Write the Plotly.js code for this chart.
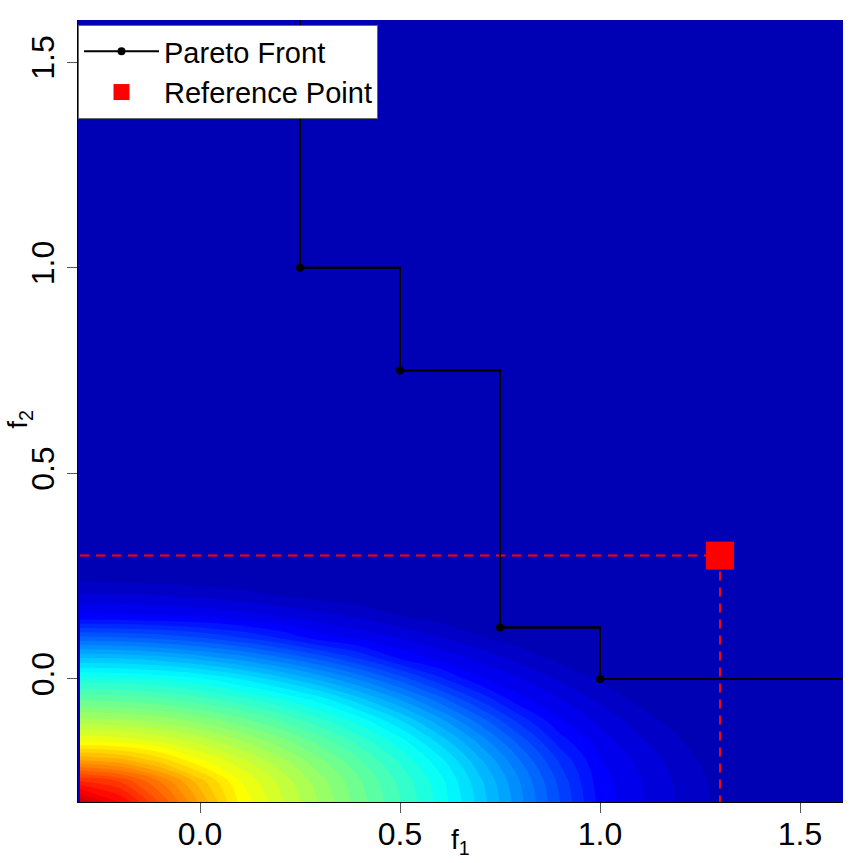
<!DOCTYPE html>
<html>
<head>
<meta charset="utf-8">
<script src="https://cdn.plot.ly/plotly-3.0.1.min.js"></script>
<style>html,body{margin:0;padding:0;background:#fff;}#chart{width:863px;height:863px;}</style>
</head>
<body>
<div id="chart"></div>
<script>
// Grid of the surface (f1 along x, f2 along y)
var gridF1 = [-0.3,-0.2,-0.1,0.0,0.1,0.2,0.3,0.4,0.5,0.6,0.7,0.8,0.9,1.0,1.1,1.2,1.3,1.6];
var gridF2 = [-0.3,-0.25,-0.2,-0.15,-0.1,-0.05,0.0,0.05,0.1,0.15,0.2,0.25,0.3,0.4,1.6];
// Surface values, one row per gridF2 value
var surfaceZ = [
 [0.935,0.876,0.794,0.712,0.630,0.580,0.532,0.484,0.436,0.388,0.327,0.261,0.195,0.128,0.098,0.072,0.050,0.009],
 [0.839,0.814,0.755,0.685,0.616,0.570,0.524,0.477,0.430,0.383,0.320,0.255,0.189,0.124,0.096,0.070,0.048,0.009],
 [0.720,0.706,0.669,0.620,0.583,0.543,0.500,0.457,0.412,0.363,0.300,0.236,0.172,0.117,0.090,0.064,0.044,0.007],
 [0.611,0.606,0.590,0.566,0.536,0.502,0.465,0.425,0.383,0.327,0.267,0.206,0.144,0.105,0.078,0.056,0.037,0.006],
 [0.542,0.537,0.526,0.507,0.482,0.453,0.420,0.384,0.335,0.280,0.224,0.166,0.117,0.089,0.064,0.046,0.029,0.003],
 [0.472,0.468,0.459,0.443,0.422,0.397,0.366,0.322,0.274,0.224,0.171,0.121,0.096,0.070,0.050,0.035,0.020,0.000],
 [0.403,0.400,0.392,0.379,0.355,0.325,0.290,0.250,0.207,0.160,0.119,0.096,0.072,0.052,0.038,0.022,0.014,0.000],
 [0.317,0.314,0.304,0.288,0.267,0.240,0.208,0.173,0.133,0.109,0.089,0.067,0.049,0.036,0.022,0.015,0.009,0.000],
 [0.221,0.218,0.210,0.196,0.177,0.153,0.125,0.110,0.094,0.076,0.057,0.045,0.032,0.020,0.015,0.009,0.004,0.000],
 [0.125,0.124,0.120,0.115,0.107,0.097,0.085,0.072,0.057,0.047,0.037,0.026,0.018,0.012,0.006,0.003,0.000,0.000],
 [0.081,0.080,0.077,0.072,0.065,0.056,0.049,0.042,0.034,0.026,0.018,0.014,0.010,0.005,0.002,0.000,0.000,0.000],
 [0.045,0.044,0.043,0.040,0.036,0.032,0.026,0.020,0.017,0.013,0.010,0.007,0.004,0.002,0.000,0.000,0.000,0.000],
 [0.020,0.020,0.019,0.018,0.017,0.015,0.013,0.011,0.008,0.006,0.003,0.000,0.000,0.000,0.000,0.000,0.000,0.000],
 [0,0,0,0,0,0,0,0,0,0,0,0,0,0,0,0,0,0],
 [0,0,0,0,0,0,0,0,0,0,0,0,0,0,0,0,0,0]
];
// Pareto front points
var paretoF1 = [0.25, 0.5, 0.75, 1.0];
var paretoF2 = [1.0, 0.75, 0.125, 0.0];
// Reference point
var refF1 = [1.3];
var refF2 = [0.3];
var tickVals = [0.0, 0.5, 1.0, 1.5];
var tickText = ["0.0", "0.5", "1.0", "1.5"];
var legendNames = ["Pareto Front", "Reference Point"];

var jet = [
 [0.0, '#0000B4'], [0.0909, '#0000FF'], [0.233, '#007FFF'], [0.375, '#00FFFF'],
 [0.517, '#7FFF7F'], [0.659, '#FFFF00'], [0.801, '#FF7F00'], [0.943, '#FF0000'], [1.0, '#CC0000']
];

// Extend the front beyond the plot edges (clipped by the axes)
var frontX = [paretoF1[0]].concat(paretoF1).concat([1.8]);
var frontY = [1.8].concat(paretoF2).concat([paretoF2[paretoF2.length-1]]);

var traces = [
 {
  type: 'contour', x: gridF1, y: gridF2, z: surfaceZ,
  colorscale: jet, showscale: false, hoverinfo: 'skip',
  autocontour: false,
  contours: {start: 0.055, end: 0.915, size: 0.02, coloring: 'fill', showlines: false},
  line: {width: 0, smoothing: 1}
 },
 {
  type: 'scatter', mode: 'lines',
  x: [-0.5, refF1[0], refF1[0]], y: [refF2[0], refF2[0], -0.5],
  line: {color: '#FF0000', width: 2, dash: '9px,7px'}, showlegend: false, hoverinfo: 'skip'
 },
 {
  type: 'scatter', mode: 'lines', x: frontX, y: frontY,
  line: {color: '#000', width: 2, shape: 'hv'}, showlegend: false, hoverinfo: 'skip'
 },
 {
  type: 'scatter', mode: 'lines+markers', x: paretoF1, y: paretoF2, name: legendNames[0],
  line: {color: '#000', width: 2, shape: 'hv'},
  marker: {color: '#000', size: 8, symbol: 'circle'}
 },
 {
  type: 'scatter', mode: 'markers', x: refF1, y: refF2, name: legendNames[1],
  marker: {color: '#FF0000', size: 28, symbol: 'square', line: {width: 0}}
 }
];

var fontFam = 'Liberation Sans, Arial, Helvetica, sans-serif';
var axisCommon = {
  tickvals: tickVals, ticktext: tickText, ticks: 'outside', ticklen: 10, tickwidth: 1,
  tickcolor: '#555', showgrid: false, zeroline: false, showline: true, linecolor: '#000', linewidth: 1,
  tickfont: {family: fontFam, size: 32, color: '#000'}, mirror: false
};

var layout = {
  width: 863, height: 863,
  margin: {l: 78, r: 20, t: 20, b: 61, pad: 0},
  paper_bgcolor: '#fff', plot_bgcolor: '#0000B4',
  font: {family: fontFam, size: 28, color: '#000'},
  xaxis: Object.assign({}, axisCommon, {range: [-0.305, 1.6075], ticklabelstandoff: -6}),
  yaxis: Object.assign({}, axisCommon, {range: [-0.2995, 1.603], tickangle: -90}),
  showlegend: true,
  legend: {
    x: 0, y: 1 - 5/782, xanchor: 'left', yanchor: 'top', bgcolor: '#fff',
    bordercolor: '#666', borderwidth: 1, font: {family: fontFam, size: 29, color: '#000'},
    itemwidth: 75, tracegroupgap: 0
  },
  annotations: [
    {text: 'f<sub>1</sub>', xref: 'paper', yref: 'paper', x: 0.5, y: -0.026, xanchor: 'center', yanchor: 'top',
     showarrow: false, font: {family: fontFam, size: 28, color: '#000'}},
    {text: 'f<sub>2</sub>', xref: 'paper', yref: 'paper', x: -0.076, y: 0.49, xanchor: 'center', yanchor: 'middle',
     textangle: -90, showarrow: false, font: {family: fontFam, size: 28, color: '#000'}}
  ]
};

Plotly.newPlot('chart', traces, layout, {displayModeBar: false, staticPlot: true});
</script>
</body>
</html>
